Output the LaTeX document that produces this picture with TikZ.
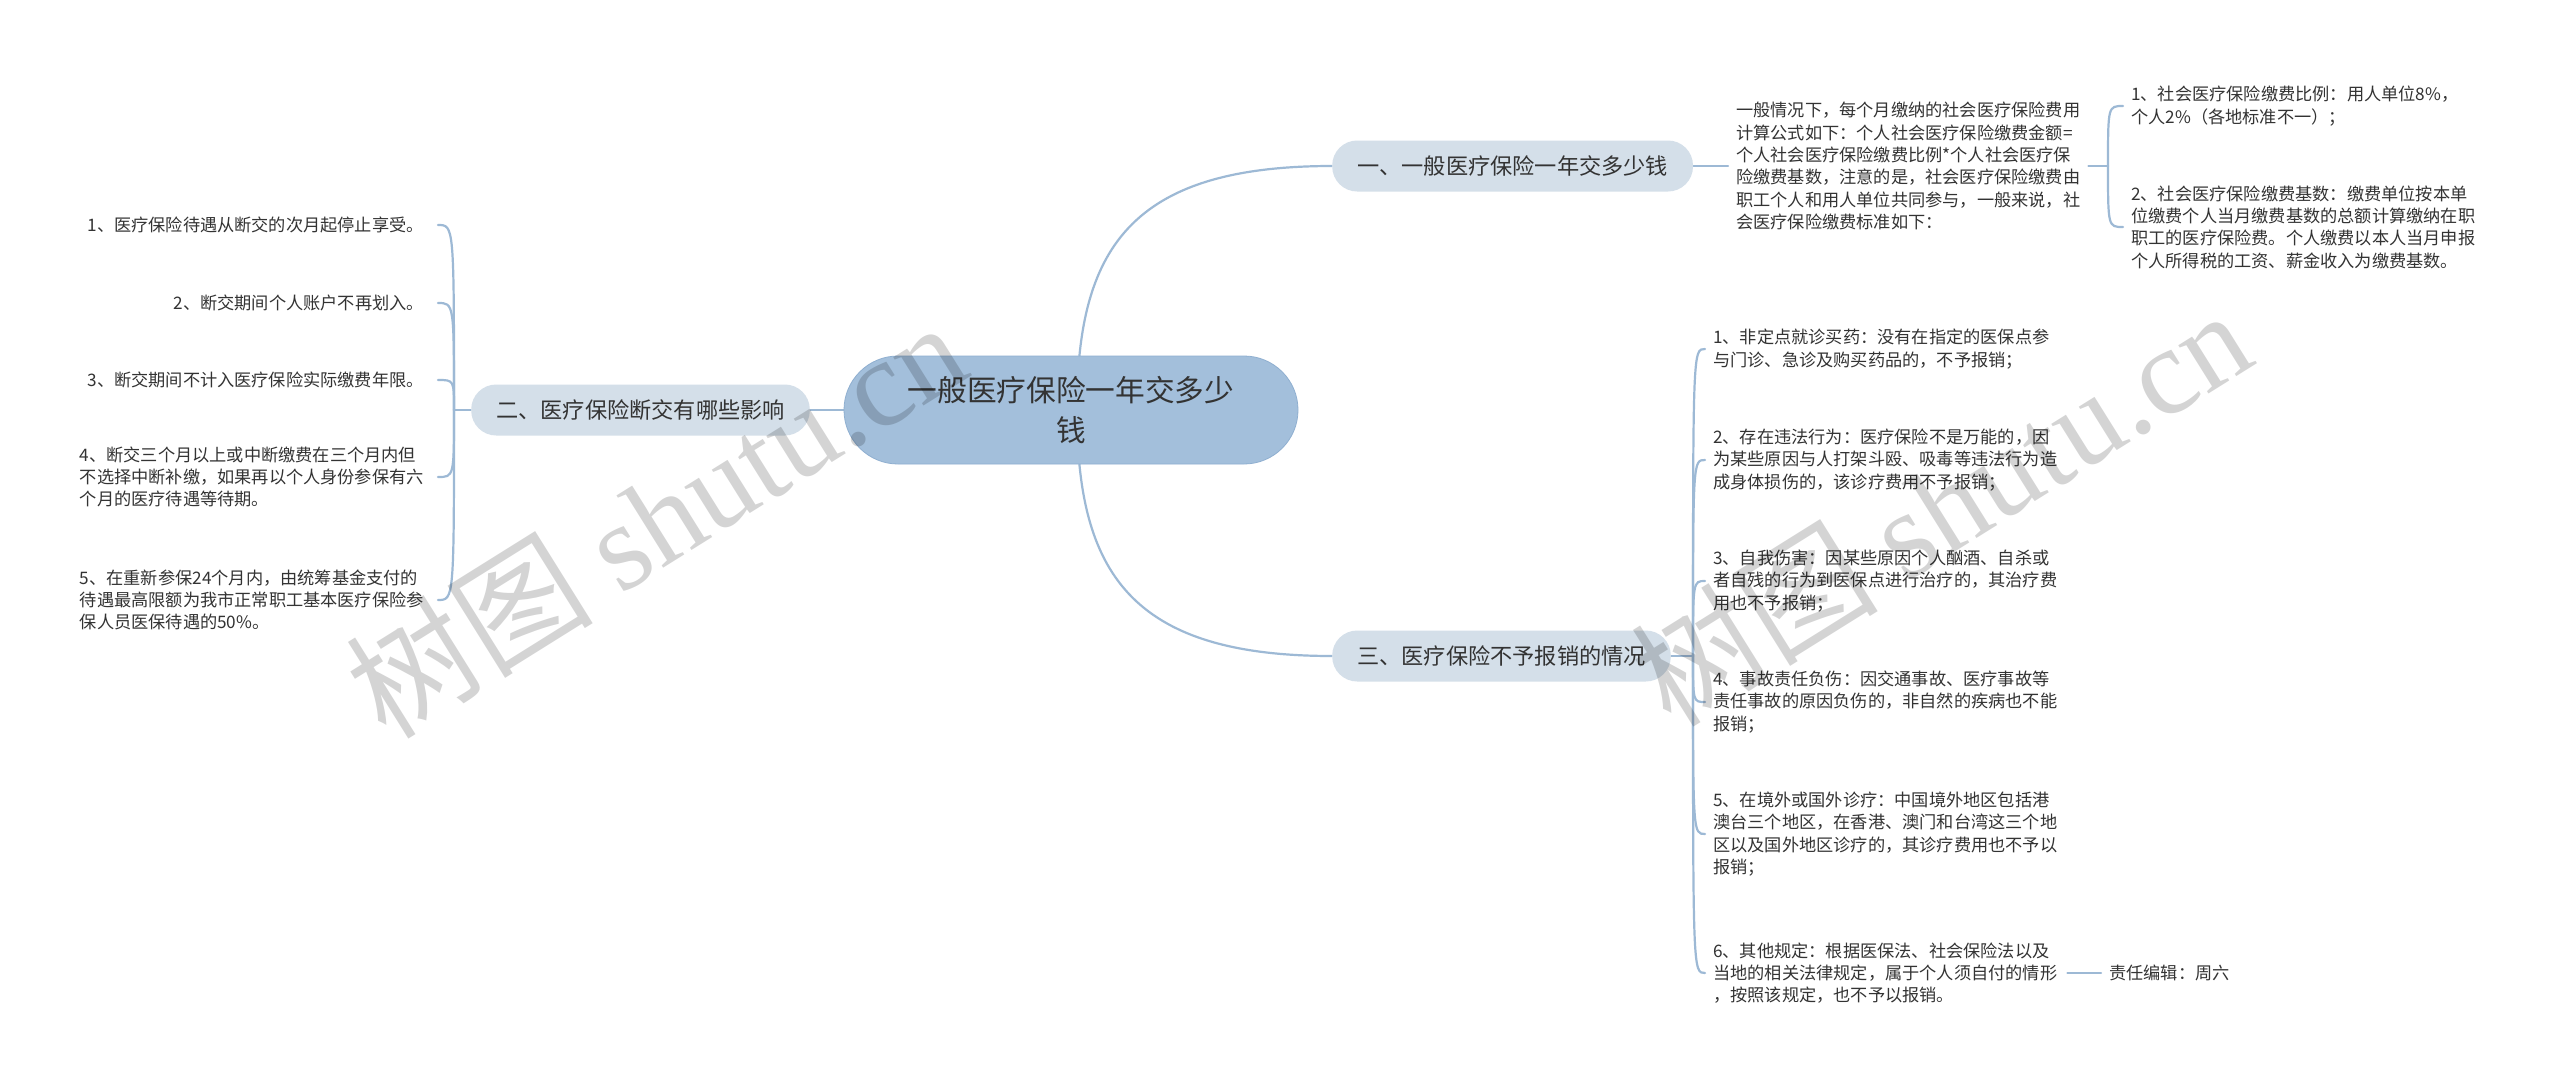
\documentclass[tikz,border=0pt]{standalone}
\usepackage{fontspec}
\setmainfont{Noto Sans CJK SC}
\newfontfamily\wmserif{Liberation Serif}
\usetikzlibrary{backgrounds,calc}
\definecolor{conncol}{HTML}{9DB9D5}
\definecolor{rootfill}{HTML}{A3BFDB}
\definecolor{rootdraw}{HTML}{8FAFD0}
\definecolor{brfill}{HTML}{D4DFE9}
\definecolor{txtcol}{HTML}{333333}
\begin{document}
\begin{tikzpicture}[x=1pt,y=-1pt,
  conn/.style={draw=conncol, line width=2.2pt, line cap=round},
  rootnode/.style={fill=rootfill, draw=rootdraw, line width=0.8pt, rounded corners=54pt,
    minimum width=454pt, minimum height=108pt, align=center, text=txtcol,
    font=\fontsize{29.7}{40}\selectfont, inner sep=0pt},
  brnode/.style={fill=brfill, rounded corners=25pt, minimum height=51pt,
    inner xsep=25pt, inner ysep=0pt, text=txtcol, font=\fontsize{22.2}{28}\selectfont},
  leaf/.style={text=txtcol, font=\fontsize{17.2}{22.3}\selectfont, align=left, inner sep=0pt},
  wm/.style={text=black, text opacity=0.17, font=\fontsize{124}{126}\selectfont, inner sep=0pt}
]
\useasboundingbox (0,0) rectangle (2560,1081);

% main nodes
\node[rootnode] (root) at (1071,410) {一般医疗保险一年交多少\\钱};
\node[brnode, anchor=west] (b1) at (1332,166) {一、一般医疗保险一年交多少钱};
\node[brnode, anchor=east] (b2) at (810,410) {二、医疗保险断交有哪些影响};
\node[brnode, anchor=west] (b3) at (1332,656) {三、医疗保险不予报销的情况\hspace{8pt}};

% branch 1 leaves
\node[leaf, anchor=west] (p1) at (1736,166) {一般情况下，每个月缴纳的社会医疗保险费用\\计算公式如下：个人社会医疗保险缴费金额=\\个人社会医疗保险缴费比例*个人社会医疗保\\险缴费基数，注意的是，社会医疗保险缴费由\\职工个人和用人单位共同参与，一般来说，社\\会医疗保险缴费标准如下：};
\node[leaf, anchor=west] (p1a) at (2131,106) {1、社会医疗保险缴费比例：用人单位8\%，\\个人2\%（各地标准不一）；};
\node[leaf, anchor=west] (p1b) at (2131,227) {2、社会医疗保险缴费基数：缴费单位按本单\\位缴费个人当月缴费基数的总额计算缴纳在职\\职工的医疗保险费。个人缴费以本人当月申报\\个人所得税的工资、薪金收入为缴费基数。};
\coordinate (j1) at (2108,166);

% branch 2 leaves
\node[leaf, anchor=east] (q1) at (424,225) {1、医疗保险待遇从断交的次月起停止享受。};
\node[leaf, anchor=east] (q2) at (424,303) {2、断交期间个人账户不再划入。};
\node[leaf, anchor=east] (q3) at (424,380) {3、断交期间不计入医疗保险实际缴费年限。};
\node[leaf, anchor=east] (q4) at (424,477) {4、断交三个月以上或中断缴费在三个月内但\\不选择中断补缴，如果再以个人身份参保有六\\个月的医疗待遇等待期。};
\node[leaf, anchor=east] (q5) at (424,600) {5、在重新参保24个月内，由统筹基金支付的\\待遇最高限额为我市正常职工基本医疗保险参\\保人员医保待遇的50\%。};
\coordinate (j2) at (454,410);

% branch 3 leaves
\node[leaf, anchor=west] (r1) at (1713,349) {1、非定点就诊买药：没有在指定的医保点参\\与门诊、急诊及购买药品的，不予报销；};
\node[leaf, anchor=west] (r2) at (1713,460) {2、存在违法行为：医疗保险不是万能的，因\\为某些原因与人打架斗殴、吸毒等违法行为造\\成身体损伤的，该诊疗费用不予报销；};
\node[leaf, anchor=west] (r3) at (1713,581) {3、自我伤害：因某些原因个人酗酒、自杀或\\者自残的行为到医保点进行治疗的，其治疗费\\用也不予报销；};
\node[leaf, anchor=west] (r4) at (1713,702) {4、事故责任负伤：因交通事故、医疗事故等\\责任事故的原因负伤的，非自然的疾病也不能\\报销；};
\node[leaf, anchor=west] (r5) at (1713,834) {5、在境外或国外诊疗：中国境外地区包括港\\澳台三个地区，在香港、澳门和台湾这三个地\\区以及国外地区诊疗的，其诊疗费用也不予以\\报销；};
\node[leaf, anchor=west] (r6) at (1713,973) {6、其他规定：根据医保法、社会保险法以及\\当地的相关法律规定，属于个人须自付的情形\\，按照该规定，也不予以报销。};
\node[leaf, anchor=west] (ed) at (2109,973) {责任编辑：周六};
\coordinate (j3) at (1693,656);

% watermarks
\node[wm, rotate=32] (wm1) at (655,518) {树图 {\wmserif shutu.cn}};
\node[wm, rotate=32] (wm2) at (1940,506) {树图 {\wmserif shutu.cn}};

\begin{scope}[on background layer]
  \fill[white] (0,0) rectangle (2560,1081);
  % root to branches
  \draw[conn] ([xshift=6pt]root.center) .. controls ($(root.center)+(6,-161)$) and ($(b1.west)+(-202,0)$) .. (b1.west);
  \draw[conn] ([xshift=6pt]root.center) .. controls ($(root.center)+(6,162)$) and ($(b3.west)+(-202,0)$) .. (b3.west);
  \draw[conn] (root.west) -- (b2.east);
  % branch 1
  \draw[conn] (b1.east) -- ([xshift=-8pt]p1.west);
  \draw[conn] ([xshift=8pt]p1.east) -- (j1);
  \foreach \c in {p1a,p1b}
    \draw[conn] (j1) .. controls (j1 |- \c.west) .. ([xshift=-8pt]\c.west);
  % branch 2
  \draw[conn] (b2.west) -- (j2);
  \foreach \c in {q1,q2,q3,q4,q5}
    \draw[conn] (j2) .. controls (j2 |- \c.east) .. ([xshift=14pt]\c.east);
  % branch 3
  \draw[conn] (b3.east) -- (j3);
  \foreach \c in {r1,r2,r3,r4,r5,r6}
    \draw[conn] (j3) .. controls (j3 |- \c.west) .. ([xshift=-8pt]\c.west);
  \draw[conn] ([xshift=10pt]r6.east) -- ([xshift=-8pt]ed.west);
\end{scope}
\end{tikzpicture}
\end{document}
